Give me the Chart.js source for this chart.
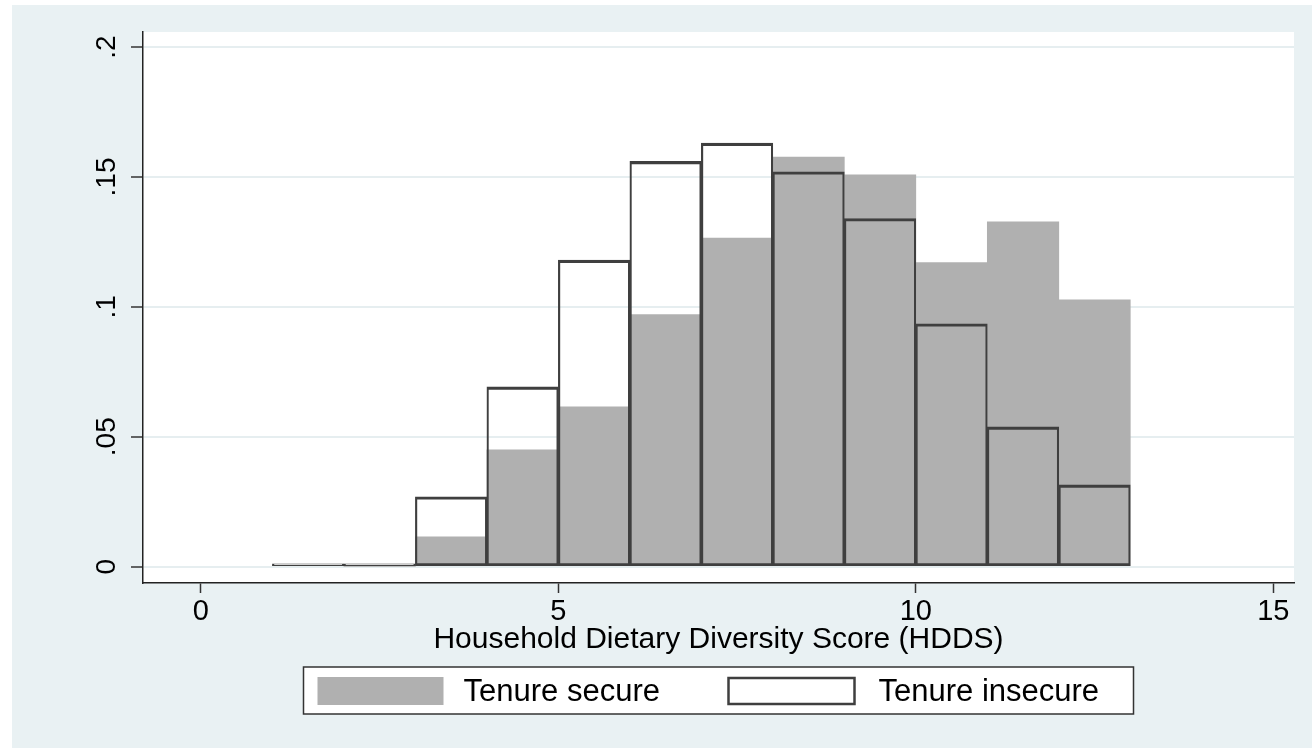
<!DOCTYPE html>
<html>
<head>
<meta charset="utf-8">
<script src="https://cdn.jsdelivr.net/npm/chart.js@4.4.1/dist/chart.umd.min.js"></script>
<style>
  html, body { margin: 0; padding: 0; background: #fff; }
  #wrap { width: 1312px; height: 748px; }
</style>
</head>
<body>
<div id="wrap"><canvas id="hddsHist"></canvas></div>
<script>
// histogram bins: each bin is [start, start + 1)
var binStarts = [1, 2, 3, 4, 5, 6, 7, 8, 9, 10, 11, 12];
var tenureSecure = [0.0004, 0, 0.0115, 0.045, 0.0615, 0.097, 0.1265, 0.1577, 0.1508, 0.117, 0.1327, 0.1027];
var tenureInsecure = [0.0011, 0.0011, 0.0269, 0.0692, 0.118, 0.156, 0.163, 0.152, 0.134, 0.0935, 0.0538, 0.0315];
var seriesLabels = ['Tenure secure', 'Tenure insecure'];
var xTickValues = [0, 5, 10, 15];
var yTickValues = [0, 0.05, 0.1, 0.15, 0.2];
var yTickLabels = ['0', '.05', '.1', '.15', '.2'];
var xTitle = 'Household Dietary Diversity Score (HDDS)';

var FONT = '"Liberation Sans", Arial, sans-serif';
var GRAY = '#b0b0b0';
var OUTLINE = '#3f3f3f';

function toPoints(values) {
    return values.map(function (v, i) { return { x: binStarts[i] + 0.5, y: v }; });
}

// light bluish frame + white plot region (Stata s2color look)
var backgroundPlugin = {
    id: 'stataBackground',
    beforeDraw: function (chart) {
        var ctx = chart.ctx, a = chart.chartArea;
        ctx.save();
        ctx.fillStyle = '#e9f1f3';
        ctx.fillRect(12, 5, chart.width - 12, chart.height - 5);
        ctx.fillStyle = '#ffffff';
        ctx.fillRect(a.left, a.top, a.right - a.left, a.bottom - a.top);
        ctx.restore();
    }
};

// vertical y tick labels
var yLabelPlugin = {
    id: 'verticalYLabels',
    afterDraw: function (chart) {
        var ctx = chart.ctx, ys = chart.scales.y;
        ctx.save();
        ctx.fillStyle = '#000';
        ctx.font = '28px ' + FONT;
        ctx.textAlign = 'center';
        ctx.textBaseline = 'alphabetic';
        yTickValues.forEach(function (v, i) {
            var py = ys.getPixelForValue(v);
            ctx.save();
            ctx.translate(ys.right - 28, py);
            ctx.rotate(-Math.PI / 2);
            ctx.fillText(yTickLabels[i], 0, 0);
            ctx.restore();
        });
        ctx.restore();
    }
};

// boxed legend under the axis title
var boxLegendPlugin = {
    id: 'boxLegend',
    afterDraw: function (chart) {
        var ctx = chart.ctx, a = chart.chartArea;
        var cx = (a.left + a.right) / 2;
        var bw = 830, bh = 47;
        var bx = cx - bw / 2, by = a.bottom + 84;
        ctx.save();
        ctx.fillStyle = '#fff';
        ctx.fillRect(bx, by, bw, bh);
        ctx.strokeStyle = '#333';
        ctx.lineWidth = 1.5;
        ctx.strokeRect(bx, by, bw, bh);

        ctx.fillStyle = GRAY;
        ctx.fillRect(bx + 14, by + 10, 126, 28);

        ctx.fillStyle = '#fff';
        ctx.fillRect(bx + 425, by + 11, 126, 26);
        ctx.strokeStyle = OUTLINE;
        ctx.lineWidth = 2.5;
        ctx.strokeRect(bx + 425, by + 11, 126, 26);

        ctx.fillStyle = '#000';
        ctx.font = '31px ' + FONT;
        ctx.textAlign = 'left';
        ctx.textBaseline = 'middle';
        ctx.fillText(seriesLabels[0], bx + 160, by + 25);
        ctx.fillText(seriesLabels[1], bx + 575, by + 25);
        ctx.restore();
    }
};

var ctx = document.getElementById('hddsHist').getContext('2d');
var hddsHist = new Chart(ctx, {
    type: 'bar',
    data: {
        datasets: [{
            label: seriesLabels[0],
            data: toPoints(tenureSecure),
            backgroundColor: GRAY,
            borderWidth: 0,
            order: 2,
            grouped: false,
            barPercentage: 1,
            categoryPercentage: 1
        }, {
            label: seriesLabels[1],
            data: toPoints(tenureInsecure),
            backgroundColor: 'rgba(0,0,0,0)',
            borderColor: OUTLINE,
            borderWidth: { top: 2.5, bottom: 2, left: 1.5, right: 1.5 },
            borderSkipped: false,
            order: 1,
            grouped: false,
            barPercentage: 1,
            categoryPercentage: 1
        }]
    },
    options: {
        responsive: true,
        maintainAspectRatio: false,
        animation: false,
        layout: { padding: { left: 0, right: 18, top: 32, bottom: 93 } },
        scales: {
            x: {
                type: 'linear',
                offset: false,
                min: -0.81,
                max: 15.29,
                afterBuildTicks: function (axis) {
                    axis.ticks = xTickValues.map(function (v) { return { value: v }; });
                },
                afterFit: function (axis) { axis.height = 72; },
                grid: {
                    offset: false,
                    drawOnChartArea: false,
                    drawTicks: true,
                    tickLength: 10,
                    tickColor: '#333',
                    tickWidth: 1.5
                },
                border: { display: true, color: '#222', width: 1.5 },
                ticks: {
                    color: '#000',
                    padding: 4,
                    maxRotation: 0,
                    autoSkip: false,
                    font: { family: FONT, size: 29, lineHeight: 1 }
                },
                title: {
                    display: true,
                    text: xTitle,
                    color: '#000',
                    padding: 0,
                    font: { family: FONT, size: 30, lineHeight: 1 }
                }
            },
            y: {
                min: -0.0063,
                max: 0.2058,
                afterBuildTicks: function (axis) {
                    axis.ticks = yTickValues.map(function (v) { return { value: v }; });
                },
                afterFit: function (axis) { axis.width = 143; },
                grid: {
                    color: '#e6eef0',
                    lineWidth: 2,
                    drawTicks: true,
                    tickLength: 12,
                    tickColor: '#333',
                    tickWidth: 1.5
                },
                border: { display: true, color: '#222', width: 1.5 },
                ticks: { display: false }
            }
        },
        plugins: {
            legend: { display: false },
            tooltip: { enabled: false }
        }
    },
    plugins: [backgroundPlugin, yLabelPlugin, boxLegendPlugin]
});
</script>
</body>
</html>
